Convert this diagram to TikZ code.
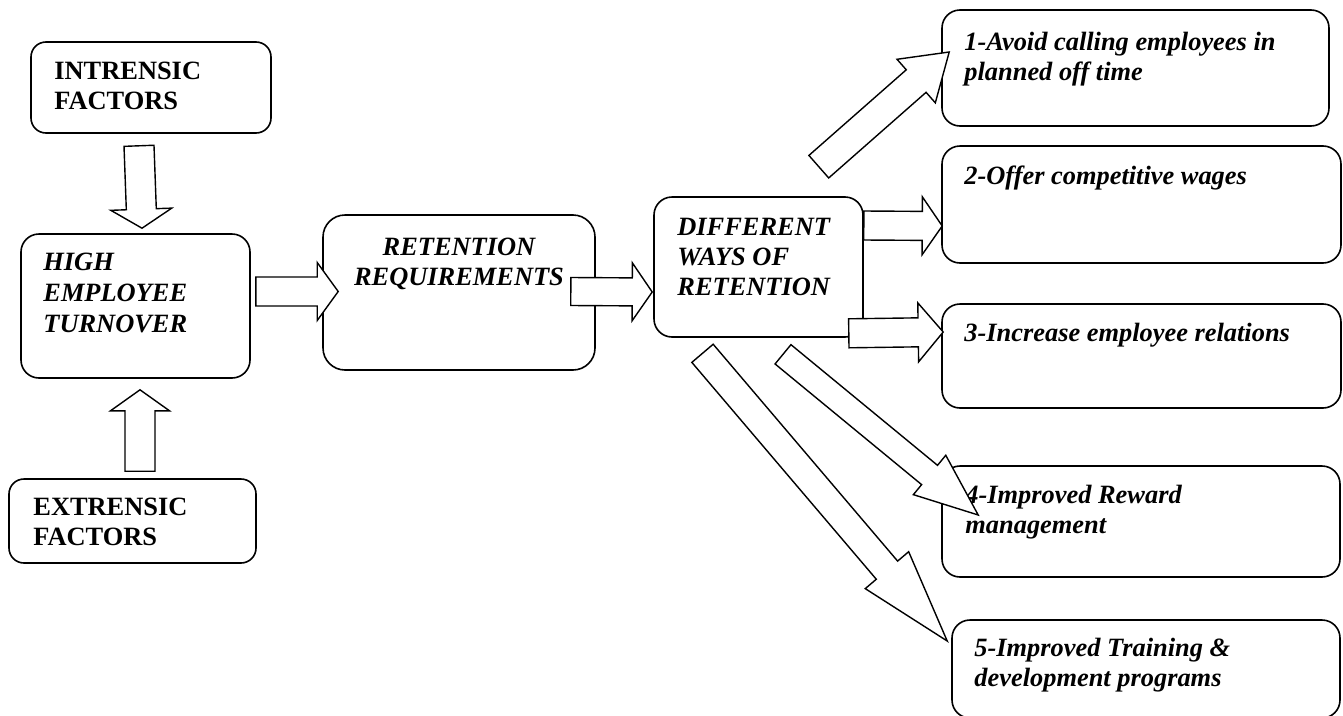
\documentclass[tikz,border=0pt]{standalone}
\usepackage{fontspec}
\setmainfont{Liberation Serif}
\usetikzlibrary{calc}
\tikzset{
  box/.style={draw, line width=1.6pt, rounded corners=18pt, inner sep=0pt},
  btxt/.style={font=\fontsize{26.4pt}{30pt}\selectfont\bfseries, align=left, inner sep=0pt, anchor=north west},
  bitxt/.style={font=\fontsize{26.4pt}{30pt}\selectfont\bfseries\itshape, align=left, inner sep=0pt, anchor=north west},
  blockarrow/.style={draw, fill=white, line width=1.4pt, line join=miter},
}
% tail, tip, half shaft width, half head width, head length
\newcommand\blockarr[5]{%
  \coordinate (ba) at (#1);
  \coordinate (bb) at (#2);
  \coordinate (bh) at ($(bb)!#5pt!(ba)$);
  \draw[blockarrow] ($(ba)!#3pt!90:(bb)$) -- ($(bh)!#3pt!90:(bb)$) -- ($(bh)!#4pt!90:(bb)$)
    -- (bb) -- ($(bh)!#4pt!-90:(bb)$) -- ($(bh)!#3pt!-90:(bb)$) -- ($(ba)!#3pt!-90:(bb)$) -- cycle;
}
\begin{document}
\begin{tikzpicture}[x=1pt, y=-1pt]
\useasboundingbox (0,0) rectangle (1343,715);
% boxes
\node[box, rounded corners=15pt, minimum width=240pt, minimum height=91pt] (intr) at (151,87.5) {};
\node[box, minimum width=229pt, minimum height=144pt] (high) at (135.5,306) {};
\node[box, rounded corners=15pt, minimum width=247pt, minimum height=84pt] (extr) at (132.5,521) {};
\node[box, rounded corners=22pt, minimum width=272pt, minimum height=155pt] (ret) at (459,292.5) {};
\node[box, minimum width=209pt, minimum height=140pt] (diff) at (758.5,267) {};
\node[box, minimum width=387pt, minimum height=116pt] (b1) at (1135.5,68) {};
\node[box, minimum width=399pt, minimum height=117pt] (b2) at (1141.5,204.5) {};
\node[box, minimum width=399pt, minimum height=104pt] (b3) at (1141.5,356) {};
\node[box, minimum width=398pt, minimum height=111pt] (b4) at (1141,521.5) {};
\node[box, minimum width=388pt, minimum height=98pt] (b5) at (1146,669) {};
% texts
\node[btxt] (intrt) at ($(intr.north west)+(24,21)$) {INTRENSIC\\FACTORS};
\node[bitxt, font=\fontsize{26.4pt}{31pt}\selectfont\bfseries\itshape] (hight) at ($(high.north west)+(23,20)$) {HIGH\\EMPLOYEE\\TURNOVER};
\node[btxt] (extrt) at ($(extr.north west)+(25,20)$) {EXTRENSIC\\FACTORS};
\node[bitxt, align=center, anchor=north] (rett) at ($(ret.north)+(0,24)$) {RETENTION\\REQUIREMENTS};
\node[bitxt] (difft) at ($(diff.north west)+(24,22)$) {DIFFERENT\\WAYS OF\\RETENTION};
\node[bitxt] (b1t) at ($(b1.north west)+(23,23)$) {1-Avoid calling employees in\\planned off time};
\node[bitxt] (b2t) at ($(b2.north west)+(23,21)$) {2-Offer competitive wages};
\node[bitxt] (b3t) at ($(b3.north west)+(23,20)$) {3-Increase employee relations};
\node[bitxt] (b4t) at ($(b4.north west)+(24,20)$) {4-Improved Reward\\management};
\node[bitxt] (b5t) at ($(b5.north west)+(23,19)$) {5-Improved Training \&\\development programs};
% block arrows
\blockarr{$(intr.south)+(-12,12)$}{$(high.north)+(6.5,-5)$}{15}{30.5}{19}
\blockarr{$(extr.north)+(7.5,-7)$}{$(high.south)+(4.5,11)$}{15}{29.5}{21}
\blockarr{$(high.east)+(5,-14.5)$}{$(ret.west)+(16,-1)$}{14.5}{29}{21}
\blockarr{$(ret.east)+(-25,-1)$}{$(diff.west)+(-1,25)$}{14}{29}{20}
\blockarr{$(diff.east)+(0,-41.5)$}{$(b2.west)+(1,21.5)$}{14.5}{29}{20}
\blockarr{$(diff.south east)+(-15,-4.5)$}{$(b3.west)+(2,-24)$}{14.5}{29.5}{25}
\blockarr{$(diff.north east)+(-45,-29.5)$}{$(b1.west)+(8,-16)$}{15}{29}{44}
\blockarr{$(diff.south)+(24.5,16.5)$}{$(b4.west)+(37,-6.5)$}{12.5}{25.5}{63}
\blockarr{$(diff.south)+(-56,15.5)$}{$(b5.west)+(-4,-28)$}{14}{28.5}{93}
\end{tikzpicture}
\end{document}
